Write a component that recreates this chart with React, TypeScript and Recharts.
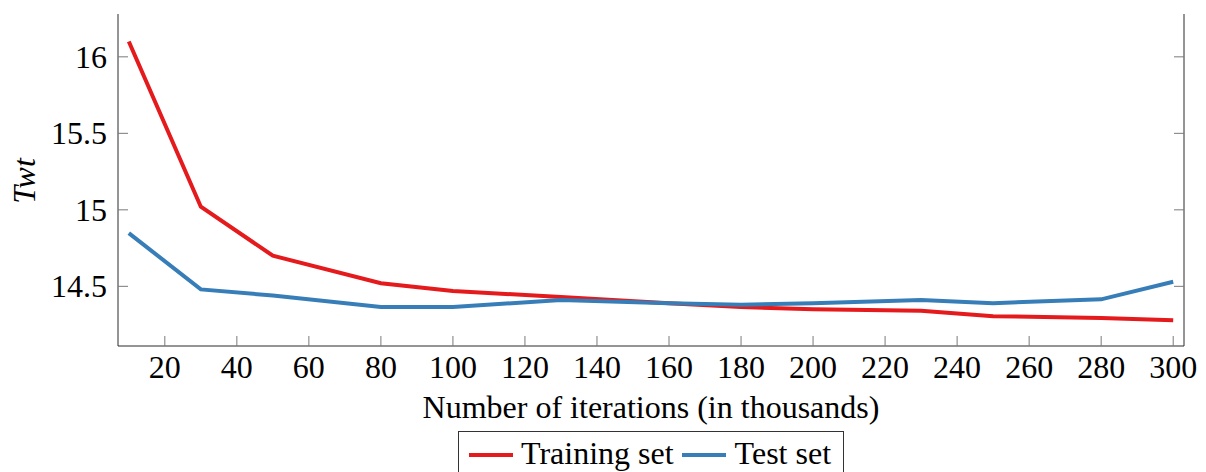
import React from 'react';
import { LineChart, Line, XAxis, YAxis, Legend, Label } from 'recharts';

// Iteration counts (in thousands) at which the model was evaluated
const iterations = [10, 30, 50, 80, 100, 130, 160, 180, 200, 230, 250, 280, 300];
// Twt on the training set
const trainingTwt = [16.1, 15.02, 14.7, 14.52, 14.47, 14.43, 14.39, 14.365, 14.35, 14.34, 14.305, 14.293, 14.278];
// Twt on the test set
const testTwt = [14.848, 14.48, 14.44, 14.365, 14.365, 14.41, 14.39, 14.38, 14.39, 14.41, 14.39, 14.415, 14.53];

const xTicks = [20, 40, 60, 80, 100, 120, 140, 160, 180, 200, 220, 240, 260, 280, 300];
const yTicks = [14.5, 15, 15.5, 16];

const data = iterations.map((it, i) => ({ it, training: trainingTwt[i], test: testTwt[i] }));

const FONT = '"Liberation Serif", "Times New Roman", serif';
const FS = 32;
const RED = '#e41a1c';
const BLUE = '#377eb8';
const TICK = '#7a7a7a';
const FRAME = '#2b2b2b';
const TL = 10;

const BottomTick = (p: any) => (
  <g>
    <line x1={p.x} x2={p.x} y1={p.y} y2={p.y - TL} stroke={TICK} strokeWidth={1} />
    <text x={p.x} y={p.y + 32} textAnchor="middle" fontFamily={FONT} fontSize={FS} fill="#000">
      {p.payload.value}
    </text>
  </g>
);
const TopTick = (p: any) => (
  <line x1={p.x} x2={p.x} y1={p.y} y2={p.y + TL} stroke={TICK} strokeWidth={1} />
);
const LeftTick = (p: any) => (
  <g>
    <line x1={p.x} x2={p.x + TL} y1={p.y} y2={p.y} stroke={TICK} strokeWidth={1} />
    <text x={p.x - 11} y={p.y + 11} textAnchor="end" fontFamily={FONT} fontSize={FS} fill="#000">
      {p.payload.value}
    </text>
  </g>
);
const RightTick = (p: any) => (
  <line x1={p.x} x2={p.x - TL} y1={p.y} y2={p.y} stroke={TICK} strokeWidth={1} />
);

const swatch = (color: string, ml: number, mr: number) => (
  <span style={{ display: 'inline-block', width: 44, height: 4, background: color, marginTop: 16.5, marginLeft: ml, marginRight: mr }} />
);

const LegendBox = () => (
  <div
    style={{
      border: '1px solid #333',
      width: 386,
      height: 50,
      boxSizing: 'border-box',
      position: 'relative',
      fontFamily: FONT,
      fontSize: FS,
      color: '#000',
      background: '#fff',
    }}
  >
    <div style={{ position: 'absolute', left: 10, top: 4.5, display: 'flex', alignItems: 'flex-start', whiteSpace: 'nowrap', lineHeight: '32px' }}>
      {swatch(RED, 0, 8)}
      <span>Training set</span>
      {swatch(BLUE, 8, 9)}
      <span>Test set</span>
    </div>
  </div>
);

export default function App() {
  return (
    <div style={{ position: 'absolute', left: 0, top: 0, width: 1206, height: 472, background: '#fff', overflow: 'hidden' }}>
      <LineChart width={1206} height={472} data={data} margin={{ top: 14, right: 21, bottom: 46, left: 0 }}>
        <XAxis
          xAxisId="b"
          dataKey="it"
          type="number"
          domain={[7, 303]}
          ticks={xTicks}
          allowDataOverflow
          orientation="bottom"
          height={80}
          tickSize={0}
          tickMargin={0}
          tickLine={false}
          axisLine={{ stroke: FRAME, strokeWidth: 1 }}
          tick={<BottomTick />}
          interval={0}
        >
          <Label
            content={(props: any) => {
              const vb = props.viewBox;
              return (
                <text x={vb.x + vb.width / 2} y={418} textAnchor="middle" fontFamily={FONT} fontSize={FS} fill="#000">
                  Number of iterations (in thousands)
                </text>
              );
            }}
          />
        </XAxis>
        <XAxis
          xAxisId="t"
          dataKey="it"
          type="number"
          domain={[7, 303]}
          ticks={xTicks}
          allowDataOverflow
          orientation="top"
          height={0}
          tickSize={0}
          tickMargin={0}
          tickLine={false}
          axisLine={{ stroke: FRAME, strokeWidth: 1 }}
          tick={<TopTick />}
          interval={0}
        />
        <YAxis
          yAxisId="l"
          type="number"
          domain={[14.11, 16.28]}
          ticks={yTicks}
          allowDataOverflow
          orientation="left"
          width={118}
          tickSize={0}
          tickMargin={0}
          tickLine={false}
          axisLine={{ stroke: FRAME, strokeWidth: 1 }}
          tick={<LeftTick />}
          interval={0}
        >
          <Label
            content={() => (
              <text
                x={0}
                y={0}
                transform="translate(35 181) rotate(-90)"
                textAnchor="middle"
                fontFamily={FONT}
                fontStyle="italic"
                fontSize={FS}
                fill="#000"
              >
                Twt
              </text>
            )}
          />
        </YAxis>
        <YAxis
          yAxisId="r"
          type="number"
          domain={[14.11, 16.28]}
          ticks={yTicks}
          allowDataOverflow
          orientation="right"
          width={1}
          tickSize={0}
          tickMargin={0}
          tickLine={false}
          axisLine={{ stroke: FRAME, strokeWidth: 1 }}
          tick={<RightTick />}
          interval={0}
        />
        <Line
          xAxisId="b"
          yAxisId="l"
          dataKey="training"
          name="Training set"
          stroke={RED}
          strokeWidth={4}
          dot={false}
          type="linear"
          isAnimationActive={false}
        />
        <Line
          xAxisId="b"
          yAxisId="l"
          dataKey="test"
          name="Test set"
          stroke={BLUE}
          strokeWidth={4}
          dot={false}
          type="linear"
          isAnimationActive={false}
        />
        <Legend
          layout="horizontal"
          align="center"
          verticalAlign="middle"
          wrapperStyle={{ left: 458, top: 431, width: 386 }}
          content={() => <LegendBox />}
        />
      </LineChart>
    </div>
  );
}
